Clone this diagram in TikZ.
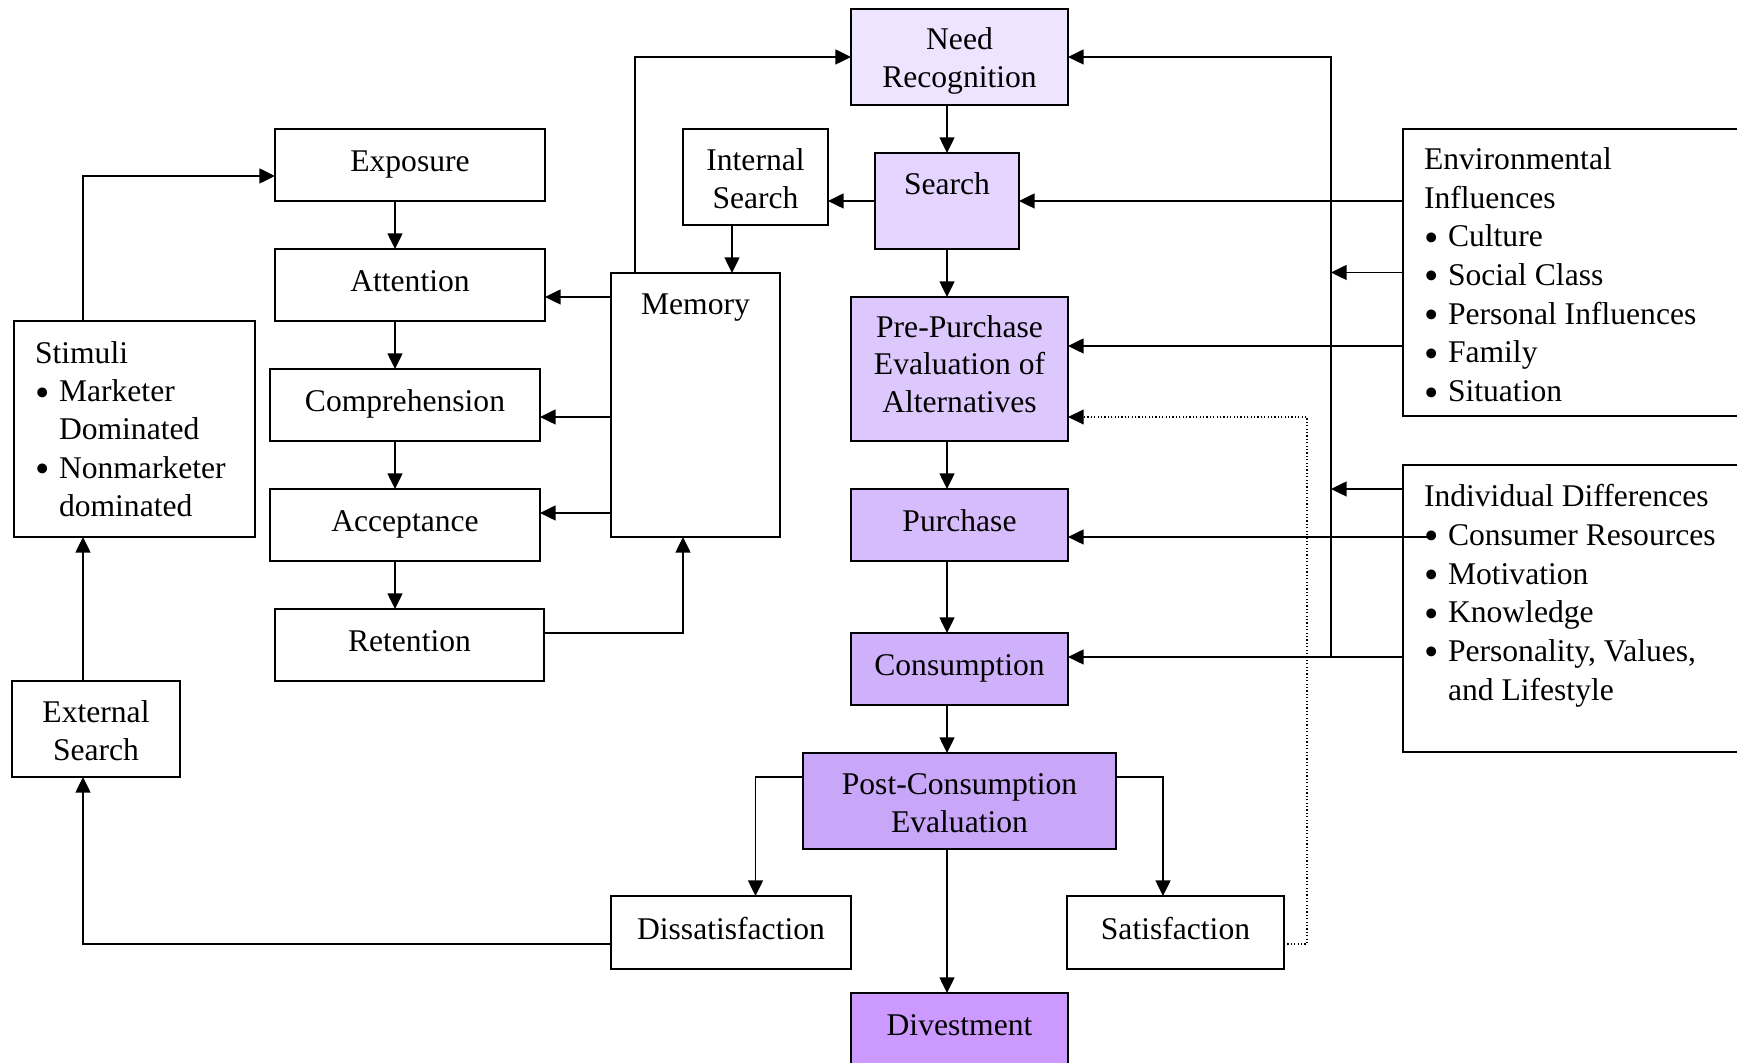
\documentclass[tikz,border=0pt]{standalone}
\usepackage{fontspec}
\usepackage{graphicx}
\setmainfont{Liberation Serif}
\usetikzlibrary{arrows.meta,calc}

% stage fills, lightest to darkest
\definecolor{fNeed}{RGB}{238,228,255}
\definecolor{fSearch}{RGB}{228,212,255}
\definecolor{fPre}{RGB}{221,200,253}
\definecolor{fPurch}{RGB}{214,188,252}
\definecolor{fCons}{RGB}{207,176,250}
\definecolor{fPost}{RGB}{200,166,248}
\definecolor{fDiv}{RGB}{204,153,255}

\newcommand\cbul{\makebox[12pt][l]{\raisebox{-2.2pt}[5pt][0pt]{\scalebox{1.3}{\textbullet}}}}
\newcommand\cind{\hspace*{12pt}}
\newcommand\uplift[1]{\rule{0pt}{#1}}

\begin{document}
\begin{tikzpicture}[x=0.5pt,y=-0.5pt,
  font=\fontsize{15.8pt}{19pt}\selectfont,
  every node/.style={inner sep=0pt,outer sep=0pt},
  frame/.style={draw,line width=1.1pt,rectangle},
  single/.style={frame,text height=11pt,text depth=4pt},
  multi/.style={frame,align=center},
  listtext/.style={anchor=north west,align=left},
  arr/.style={line width=0.95pt,-{Triangle[length=7.8pt,width=7.4pt]}},
  dotarr/.style={line width=0.6pt,dash pattern=on 0.6pt off 1.1pt,-{Triangle[length=7.8pt,width=7.4pt]}}]

\useasboundingbox (0,0) rectangle (1737,1063);
\clip (0,0) rectangle (1737,1063);

% ---- decision stages (centre column) ----
\node[multi,fill=fNeed,minimum width=108.5pt,minimum height=48pt] (need) at (959.5,57) {\uplift{15.2pt}Need\\Recognition};
\node[single,fill=fSearch,text depth=17pt,minimum width=72pt,minimum height=48pt] (search) at (947,201) {Search};
\node[multi,fill=fPre,font=\fontsize{15.8pt}{18.8pt}\selectfont,minimum width=108.5pt,minimum height=72pt] (pre) at (959.5,369) {Pre-Purchase\\Evaluation of\\Alternatives\rule[-5pt]{0pt}{0pt}};
\node[single,fill=fPurch,minimum width=108.5pt,minimum height=36pt] (purchase) at (959.5,525) {Purchase};
\node[single,fill=fCons,minimum width=108.5pt,minimum height=36pt] (consumption) at (959.5,669) {Consumption};
\node[multi,fill=fPost,minimum width=156.5pt,minimum height=48pt] (post) at (959.5,801) {\uplift{12.8pt}Post-Consumption\\Evaluation};
\node[frame,fill=fDiv,text height=11pt,text depth=7.5pt,minimum width=108.5pt,minimum height=39.5pt] (divest) at (959.5,1032.5) {Divestment};
\node[single,minimum width=120pt,minimum height=36.5pt] (dissat) at (731,932.5) {Dissatisfaction};
\node[single,minimum width=108.5pt,minimum height=36.5pt] (sat) at (1175.5,932.5) {Satisfaction};

% ---- information processing (left) ----
\node[multi,minimum width=72.5pt,minimum height=48pt] (internal) at (755.5,177) {\uplift{12.6pt}Internal\\Search};
\node[single,minimum width=135pt,minimum height=36pt] (exposure) at (410,165) {Exposure};
\node[single,minimum width=135pt,minimum height=36pt] (attention) at (410,285) {Attention};
\node[single,minimum width=135pt,minimum height=36pt] (comprehension) at (405,405) {Comprehension};
\node[single,minimum width=135pt,minimum height=36pt] (acceptance) at (405,525) {Acceptance};
\node[single,minimum width=134.5pt,minimum height=36pt] (retention) at (409.5,645) {Retention};
\node[frame,minimum width=84.5pt,minimum height=132pt] (memory) at (695.5,405) {};
\node[anchor=base] (memtxt) at (695.5,315) {Memory};
\node[frame,minimum width=120.5pt,minimum height=108pt] (stimuli) at (134.5,429) {};
\node[listtext,font=\fontsize{15.8pt}{19.1pt}\selectfont] (stimtxt) at (35,341.5) {Stimuli\\\cbul Marketer\\\cind Dominated\\\cbul Nonmarketer\\\cind dominated};
\node[multi,minimum width=84pt,minimum height=48pt] (external) at (96,729) {\uplift{12.6pt}External\\Search};

% ---- influences (right) ----
\node[frame,minimum width=178.5pt,minimum height=143.5pt] (env) at (1581.5,272.5) {};
\node[listtext,font=\fontsize{15.8pt}{19.35pt}\selectfont] (envtxt) at (1424,147.5) {Environmental\\Influences\\\cbul Culture\\\cbul Social Class\\\cbul Personal Influences\\\cbul Family\\\cbul Situation};
\node[frame,minimum width=178.5pt,minimum height=143.5pt] (indiv) at (1581.5,608.5) {};
\node[listtext,font=\fontsize{15.8pt}{19.35pt}\selectfont] (indivtxt) at (1424,484.5) {Individual Differences\\\cbul Consumer Resources\\\cbul Motivation\\\cbul Knowledge\\\cbul Personality, Values,\\\cind and Lifestyle};

% ---- guide coordinates for the vertical runs ----
\coordinate (cx) at (947,0);
\coordinate (lx) at (395,0);
\coordinate (sx) at (83,0);
\coordinate (vx) at (1331,0);
\coordinate (dx) at (1307,0);
\coordinate (crdot) at (1431,537);

% main sequence
\draw[arr] (need.south -| cx) -- (search.north -| cx);
\draw[arr] (search.south -| cx) -- (pre.north -| cx);
\draw[arr] (pre.south -| cx) -- (purchase.north -| cx);
\draw[arr] (purchase.south -| cx) -- (consumption.north -| cx);
\draw[arr] (consumption.south -| cx) -- (post.north -| cx);
\draw[arr] (post.south -| cx) -- (divest.north -| cx);

% outcomes
\draw[arr] ($(post.west)+(0,-24)$) -| ($(dissat.north)+(24.5,0)$);
\draw[arr] ($(post.east)+(0,-24)$) -| ($(sat.north)+(-12.5,0)$);
\draw[dotarr] ($(sat.east)+(0,11.5)$) coordinate (s1) -- (s1 -| dx) |- ($(pre.east)+(0,48)$);
\draw[arr] ($(dissat.west)+(0,11.5)$) -| (external.south -| sx);
\draw[arr] (external.north -| sx) -- (stimuli.south -| sx);
\draw[arr] (stimuli.north -| sx) |- ($(exposure.west)+(0,11)$);

% processing chain
\draw[arr] (exposure.south -| lx) -- (attention.north -| lx);
\draw[arr] (attention.south -| lx) -- (comprehension.north -| lx);
\draw[arr] (comprehension.south -| lx) -- (acceptance.north -| lx);
\draw[arr] (acceptance.south -| lx) -- (retention.north -| lx);

% memory links
\coordinate (atin) at ($(attention.east)+(0,12)$);
\coordinate (coin) at ($(comprehension.east)+(0,12)$);
\coordinate (acin) at ($(acceptance.east)+(0,-12)$);
\draw[arr] (memory.west |- atin) -- (atin);
\draw[arr] (memory.west |- coin) -- (coin);
\draw[arr] (memory.west |- acin) -- (acin);
\draw[arr] ($(retention.east)+(0,-12)$) -| ($(memory.south west)+(72,0)$);
\draw[arr] ($(memory.north west)+(24,0)$) |- (need.west);
\draw[arr] (search.west) -- (search.west -| internal.east);
\draw[arr] ($(internal.south west)+(49,0)$) -- ($(memory.north west)+(121,0)$);

% influences
\coordinate (ppin) at ($(pre.east)+(0,-23)$);
\coordinate (cnin) at ($(consumption.east)+(0,-12)$);
\coordinate (puin) at ($(purchase.east)+(0,12)$);
\draw[arr] (env.west |- search.east) -- (search.east);
\draw[arr] (env.west) -- (env.west -| vx);
\draw[arr] (env.west |- ppin) -- (ppin);
\draw[arr] ($(indiv.north west)+(0,24)$) coordinate (i1) -- (i1 -| vx);
\draw[arr] (crdot) -- (puin);
\draw[arr] (indiv.west |- cnin) -- (cnin);
\draw[arr] (vx |- cnin) |- (need.east);
\end{tikzpicture}
\end{document}
